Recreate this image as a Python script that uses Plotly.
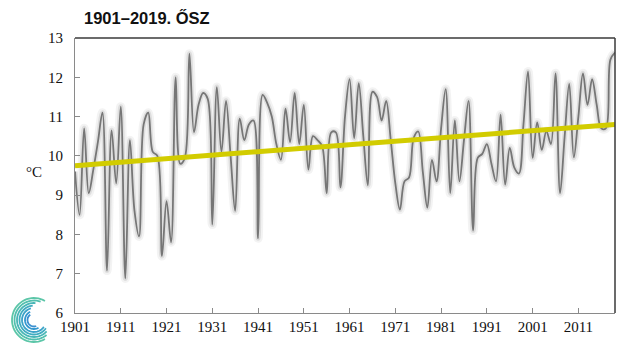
import numpy as np
import plotly.graph_objects as go

# ---- data ----
years = list(range(1901, 2020))
temps = [
    9.6, 8.5, 10.7, 9.05, 9.65, 10.35, 11.1, 7.08, 10.65, 9.3,      # 1901-1910
    11.25, 6.88, 10.4, 8.6, 7.95, 10.8, 11.1, 10.1, 10.0, 7.45,     # 1911-1920
    8.85, 7.8, 12.0, 9.8, 9.95, 12.6, 10.6, 11.3, 11.6, 11.45,      # 1921-1930
    8.25, 11.75, 10.1, 11.4, 10.0, 8.6, 10.95, 10.4, 10.8, 10.9,    # 1931-1940
    7.9, 11.55, 11.35, 11.0, 10.3, 9.9, 11.2, 10.35, 11.6, 10.3,    # 1941-1950
    11.3, 9.65, 10.5, 10.4, 10.25, 9.05, 10.6, 10.6, 9.2, 11.0,     # 1951-1960
    11.95, 10.45, 11.85, 10.5, 9.25, 11.63, 11.5, 10.9, 11.4, 10.4, # 1961-1970
    9.3, 8.63, 9.35, 9.45, 10.45, 10.62, 9.6, 8.68, 9.9, 9.35,      # 1971-1980
    10.7, 11.7, 9.05, 10.9, 9.35, 10.4, 11.4, 8.1, 9.95, 10.05,     # 1981-1990
    10.3, 9.8, 9.35, 11.05, 9.27, 10.2, 9.7, 9.55, 10.8, 12.15,     # 1991-2000
    9.95, 10.85, 10.15, 10.63, 10.3, 12.1, 9.05, 10.5, 11.83, 9.96, # 2001-2010
    11.0, 12.1, 11.3, 11.95, 11.3, 10.7, 10.7, 12.45, 12.63,        # 2011-2019
]
trend_years = [1901, 2019]
trend_values = [9.75, 10.8]
x_tick_years = [1901, 1911, 1921, 1931, 1941, 1951, 1961, 1971, 1981, 1991, 2001, 2011]
y_ticks = [6, 7, 8, 9, 10, 11, 12, 13]

title_text = "1901–2019. ŐSZ"
unit_text = "°C"

fig = go.Figure()

# soft shadow under the temperature line
fig.add_trace(go.Scatter(x=years, y=temps, mode="lines",
                         line=dict(color="rgba(160,160,160,0.13)", width=9, shape="spline", smoothing=1),
                         hoverinfo="skip", showlegend=False))
fig.add_trace(go.Scatter(x=years, y=temps, mode="lines",
                         line=dict(color="rgba(150,150,150,0.22)", width=5, shape="spline", smoothing=1),
                         hoverinfo="skip", showlegend=False))
# temperature line
fig.add_trace(go.Scatter(x=years, y=temps, mode="lines",
                         line=dict(color="#767676", width=1.8, shape="spline", smoothing=1),
                         showlegend=False))
# trend line
fig.add_trace(go.Scatter(x=trend_years, y=trend_values, mode="lines",
                         line=dict(color="#d2cc00", width=5),
                         showlegend=False))

# page has an 8px body margin: figure origin sits at (8, 8) in the window
OFF = 8
W, H = 640, 357
PL, PR, PT, PB = 75, 615, 38, 313          # plot area in window pixels
L = PL - OFF
R = (W + OFF) - PR
T = PT - OFF
B = (H + OFF) - PB
pw, ph = PR - PL, PB - PT


def px2paper(px, py):
    return (px - PL) / pw, (PB - py) / ph


shapes = []
# top and right frame lines (dark)
shapes.append(dict(type="line", xref="paper", yref="paper", x0=0, x1=1, y0=1, y1=1,
                   line=dict(color="#3a3a3a", width=1.5)))
shapes.append(dict(type="line", xref="paper", yref="paper", x0=1, x1=1, y0=0, y1=1,
                   line=dict(color="#3a3a3a", width=1.5)))

# logo: concentric spiral arcs
cx, cy = 34, 320
arcs = [
    (22, 60, 300, "#5cc6a8"),
    (19.5, 70, 310, "#52bfae"),
    (17, 85, 318, "#48b6b6"),
    (14.5, 95, 325, "#40acc0"),
    (12, 105, 325, "#3aa2c8"),
    (9, 115, 300, "#3598cf"),
    (6.5, 125, 290, "#3a8fd0"),
]
for r, a0, a1, col in arcs:
    th = np.radians(np.linspace(a0, a1, 40))
    pts = [px2paper(cx + r * np.cos(t), cy - r * np.sin(t)) for t in th]
    path = "M " + " L ".join(f"{a:.4f},{b:.4f}" for a, b in pts)
    shapes.append(dict(type="path", xref="paper", yref="paper", path=path,
                       line=dict(color=col, width=1.8)))

ux, uy = px2paper(24, 172)
tx, ty = px2paper(82, 18)

fig.update_layout(
    width=W, height=H,
    margin=dict(l=L, r=R, t=T, b=B, autoexpand=False),
    paper_bgcolor="white", plot_bgcolor="white",
    showlegend=False,
    shapes=shapes,
    annotations=[
        dict(text=unit_text, x=ux, y=uy, xref="paper", yref="paper", showarrow=False,
             font=dict(family="Liberation Serif", size=15, color="#111")),
        dict(text="<b>" + title_text + "</b>", x=tx, y=ty, xref="paper", yref="paper",
             xanchor="left", yanchor="middle", showarrow=False,
             font=dict(family="Liberation Sans", size=16.5, color="#111")),
    ],
)
fig.update_xaxes(range=[1901, 2019], tickvals=x_tick_years, ticktext=[str(v) for v in x_tick_years],
                 showgrid=False, zeroline=False, showline=True, linecolor="#8a8a8a", linewidth=1,
                 ticks="inside", ticklen=5, tickcolor="#8a8a8a",
                 tickfont=dict(family="Liberation Serif", size=15, color="#111"))
fig.update_yaxes(range=[6, 13], tickvals=y_ticks, showgrid=False, zeroline=False,
                 showline=True, linecolor="#8a8a8a", linewidth=1,
                 ticks="inside", ticklen=5, tickcolor="#8a8a8a", ticklabelstandoff=8,
                 tickfont=dict(family="Liberation Serif", size=15, color="#111"))

fig.write_html("out.html")
